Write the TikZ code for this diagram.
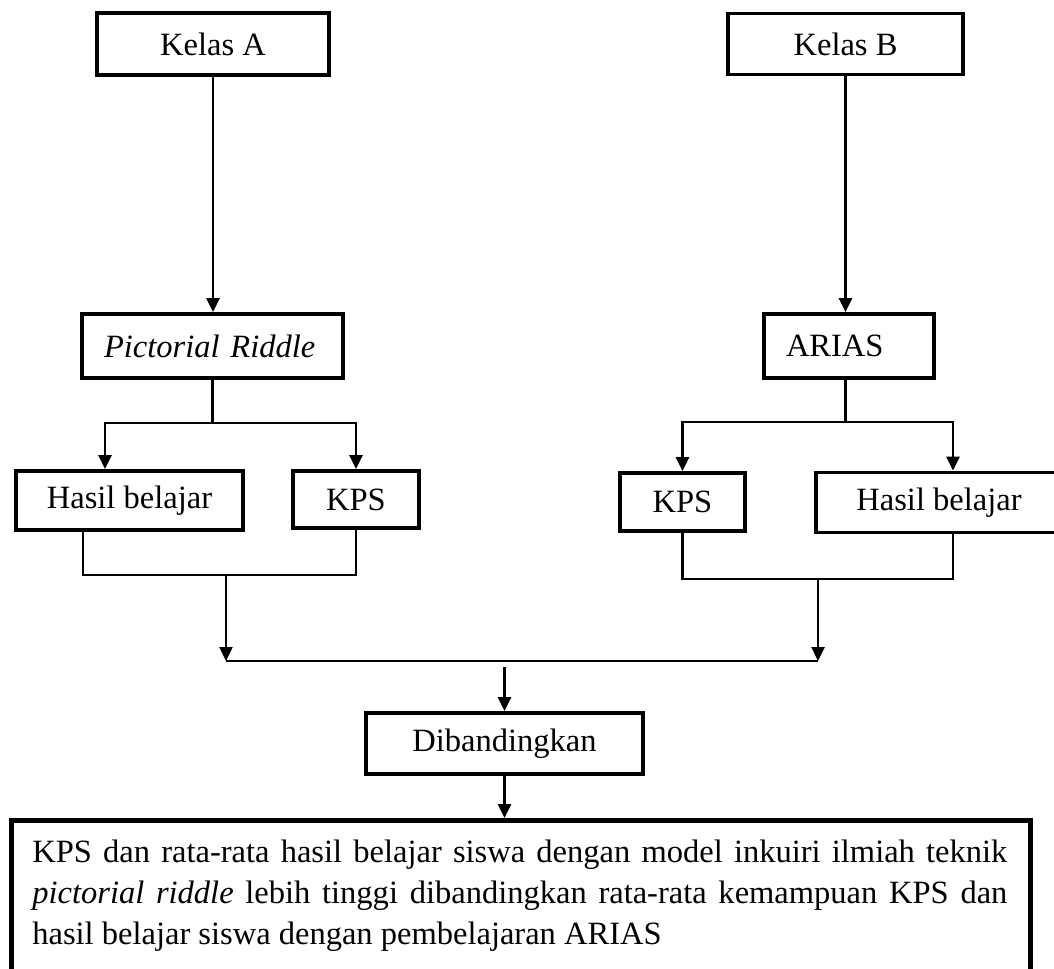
\documentclass[tikz,border=0pt]{standalone}
\usepackage{fontspec}
\setmainfont{Liberation Serif}
\usetikzlibrary{arrows.meta}
\tikzset{box/.style={draw, line width=2.2pt, inner sep=0pt, font=\fontsize{18.5}{23.3}\selectfont}}
\tikzset{line/.style={line width=1.4pt}}
\tikzset{arrow/.style={line, -{Triangle[length=2.8mm, width=2.6mm]}}}

\begin{document}
\begin{tikzpicture}
    \useasboundingbox (0, 0) rectangle (21.08, -19.38);

    \node[box, minimum width=4.64cm, minimum height=1.24cm] (kelasA) at (4.26, -0.88) {Kelas A};
    \node[box, minimum width=4.7cm, minimum height=1.22cm] (kelasB) at (16.91, -0.88) {Kelas B};
    \node[box, minimum width=5.22cm, minimum height=1.28cm, text width=4.34cm, align=left] (riddle) at (4.25, -6.92) {\textit{Pictorial Riddle}};
    \node[box, minimum width=3.4cm, minimum height=1.28cm, text width=2.52cm, align=left] (arias) at (16.98, -6.92) {ARIAS};

    \node[box, minimum width=4.54cm, minimum height=1.18cm] (hasilA) at (2.59, -10.01) {Hasil belajar};
    \node[box, minimum width=2.52cm, minimum height=1.14cm] (kpsA) at (7.12, -9.99) {KPS};
    \node[box, minimum width=2.5cm, minimum height=1.16cm] (kpsB) at (13.65, -10.04) {KPS};
    \node[box, minimum width=4.92cm, minimum height=1.2cm] (hasilB) at (18.78, -10.05) {Hasil belajar};

    \node[box, minimum width=5.54cm, minimum height=1.22cm] (banding) at (10.09, -14.87) {Dibandingkan};
    \node[box, line width=2.6pt, minimum width=20.38cm, minimum height=4cm, anchor=north west] (kesimpulan) at (0.18, -16.36) {};
    \node[font=\fontsize{18.5}{23.3}\selectfont, text width=19.5cm, align=justify, inner sep=0pt, anchor=north west] (teks) at (0.64, -16.8)
        {KPS dan rata-rata hasil belajar siswa dengan model inkuiri ilmiah teknik \textit{pictorial riddle} lebih tinggi dibandingkan rata-rata kemampuan KPS dan hasil belajar siswa dengan pembelajaran ARIAS};

    \coordinate (splitA) at (4.25, -8.46);
    \coordinate (splitB) at (16.91, -8.44);
    \coordinate (joinA) at (4.52, -11.5);
    \coordinate (joinB) at (16.36, -11.58);
    \coordinate (sumL) at (4.52, -13.22);
    \coordinate (sumR) at (16.36, -13.22);

    \draw[arrow] (kelasA.south) -- (kelasA.south |- riddle.north);
    \draw[arrow] (kelasB.south) -- (kelasB.south |- arias.north);

    \draw[line] (riddle.south -| splitA) -- (splitA);
    \draw[arrow] (splitA) -| ([xshift=-0.49cm]hasilA.north);
    \draw[arrow] (splitA) -| (kpsA.north);
    \draw[line] ([xshift=-0.93cm]hasilA.south) |- (joinA) -| (kpsA.south);
    \draw[arrow] (joinA) -- (sumL);

    \draw[line] (arias.south -| splitB) -- (splitB);
    \draw[arrow] (splitB) -| (kpsB.north);
    \draw[arrow] (splitB) -| ([xshift=0.28cm]hasilB.north);
    \draw[line] (kpsB.south) |- (joinB) -| ([xshift=0.28cm]hasilB.south);
    \draw[arrow] (joinB) -- (sumR);

    \draw[line] (sumL) -- (sumR);
    \draw[arrow] ([yshift=-0.12cm]banding.north |- sumL) -- (banding.north);
    \draw[arrow] (banding.south) -- (banding.south |- kesimpulan.north);

    % \draw[help lines] (0,0) grid (21,-19);
\end{tikzpicture}
\end{document}
